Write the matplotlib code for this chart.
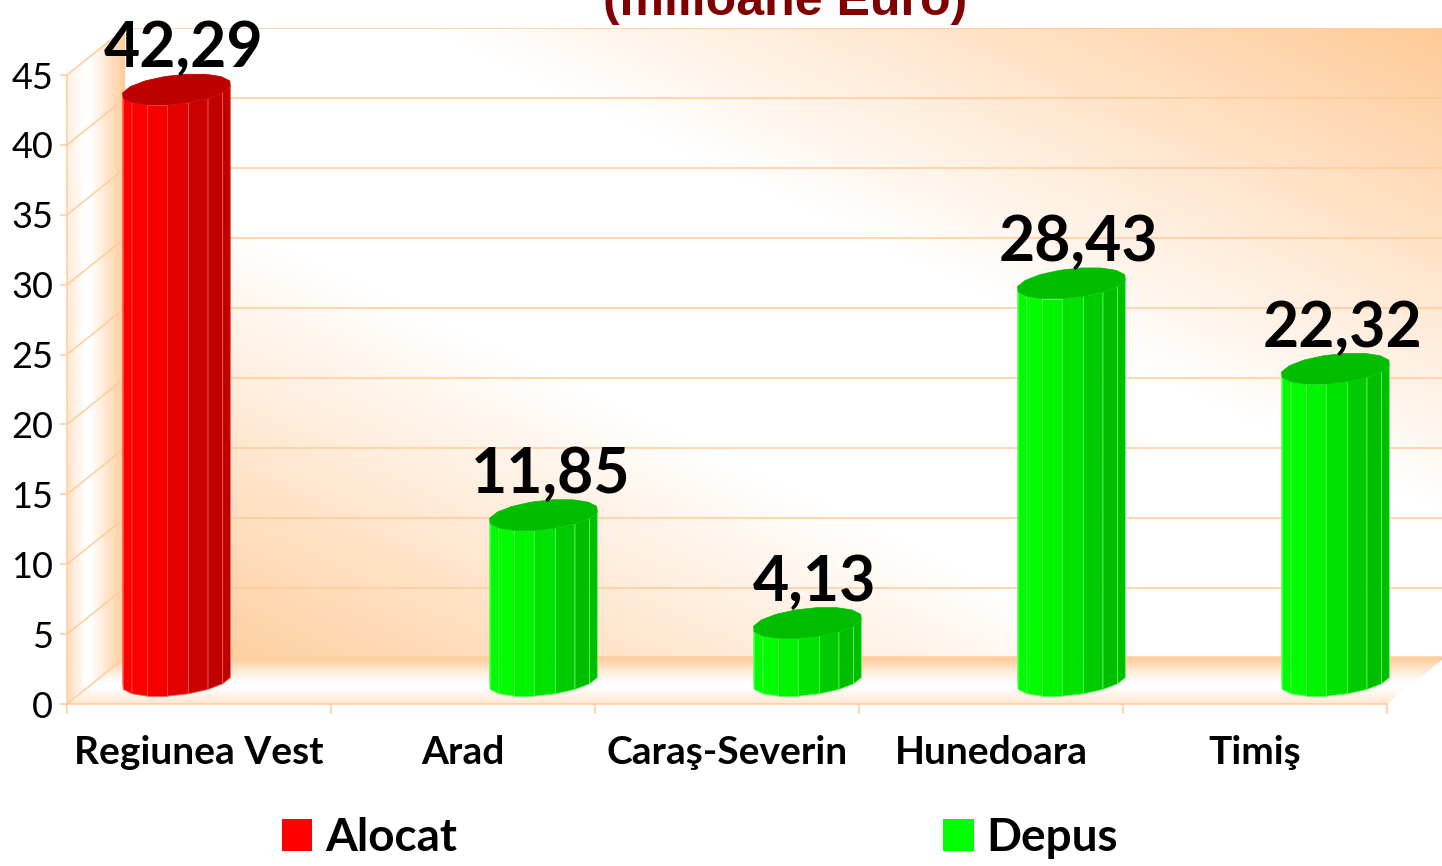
import numpy as np
import matplotlib
matplotlib.use("Agg")
import matplotlib.pyplot as plt
from matplotlib.patches import Polygon, Patch
from matplotlib.colors import to_rgb

# ---------------- data ----------------
categories = ["Regiunea Vest", "Arad", "Caraş-Severin", "Hunedoara", "Timiş"]
series_names = ["Alocat", "Depus"]
alocat = [42.29, np.nan, np.nan, np.nan, np.nan]
depus = [np.nan, 11.85, 4.13, 28.43, 22.32]
series_colors = ["#FF0000", "#00FF00"]
yticks = [0, 5, 10, 15, 20, 25, 30, 35, 40, 45]
title = "(milioane Euro)"

# ---------------- geometry / style ----------------
W, H = 1442, 866
fig = plt.figure(figsize=(W / 100, H / 100), dpi=100)
fig.patch.set_facecolor("white")

ncat = len(categories)
ymax = yticks[-1]
DX, DY = 0.22, 3.33          # depth offset of back wall (data units)
RX = 0.193                   # cylinder radius (x units)
S = 0.337                    # cylinder depth radius (fraction of depth)
SLOT = 0.195                 # series offset inside a category
px_x = 264.0                 # pixels per category
px_y = 629.0 / 45.0          # pixels per value unit
left_px, base_px = 67, 704

ax = fig.add_axes([left_px / W, (H - base_px) / H,
                   (ncat + DX) * px_x / W, (ymax + DY) * px_y / H])
ax.patch.set_visible(False)

ORANGE = np.array(to_rgb("#FFCA97"))
GRID = "#FFCC99"

# back wall gradient (axial, diagonal)
nx, ny = 400, 250
U, V = np.meshgrid(np.linspace(0, 1, nx), np.linspace(0, 1, ny))
t = (U + V) / 2
w = np.clip((1 - np.abs(2 * t - 1)) * 1.3, 0, 1)
img = ORANGE + (1 - ORANGE) * w[..., None]
ax.imshow(img, origin="lower", extent=(DX, ncat + DX, DY, ymax + DY),
          aspect="auto", interpolation="bilinear", zorder=0)

# left wall gradient
U2, V2 = np.meshgrid(np.linspace(0, 1, 60), np.linspace(0, 1, 250))
a = np.clip((U2 - 0.4) / 0.6, 0, 1)
b = np.clip((0.3 - U2) / 0.3, 0, 1) * (0.2 + 0.5 * (1 - V2))
amt = np.maximum(a, b)
img2 = 1 - (1 - ORANGE) * amt[..., None]
lw_poly = Polygon([(0, 0), (0, ymax), (DX, ymax + DY), (DX, DY)],
                  closed=True, transform=ax.transData, fc="none", ec="none")
im2 = ax.imshow(img2, origin="lower", extent=(0, DX, 0, ymax + DY),
                aspect="auto", interpolation="bilinear", zorder=0)
im2.set_clip_path(lw_poly)

# floor gradient
U3, V3 = np.meshgrid(np.linspace(0, 1, 300), np.linspace(0, 1, 80))
a3 = np.clip((V3 - 0.45) / 0.55, 0, 1) ** 1.2
b3 = np.clip((0.35 - V3) / 0.35, 0, 1) * 0.45
amt3 = np.maximum(a3, b3)
img3 = 1 - (1 - ORANGE) * amt3[..., None]
fl_poly = Polygon([(0, 0), (ncat, 0), (ncat + DX, DY), (DX, DY)],
                  closed=True, transform=ax.transData, fc="none", ec="none")
im3 = ax.imshow(img3, origin="lower", extent=(0, ncat + DX, 0, DY),
                aspect="auto", interpolation="bilinear", zorder=0)
im3.set_clip_path(fl_poly)

# gridlines on back wall and left wall
for v in yticks:
    ax.plot([DX, ncat + DX], [v + DY, v + DY], color=GRID, lw=1.1, zorder=1)
    ax.plot([0, DX], [v, v + DY], color=GRID, lw=1.1, zorder=1)


# ---------------- cylinders ----------------
def draw_cylinder(xc, val, color, z):
    base = np.array(to_rgb(color))
    N = 16
    th = np.linspace(0, 2 * np.pi, N + 1) + np.pi / N
    cx = xc + DX / 2
    cy = DY / 2

    def pt(theta, level):
        return (cx + RX * np.cos(theta) + S * np.sin(theta) * DX,
                level + cy + S * np.sin(theta) * DY)

    k = DX * S / RX
    L = np.array([-0.55, -0.85])
    L = L / np.linalg.norm(L)
    edge = base + (1 - base) * 0.35
    for i in range(N):
        a0, a1 = th[i], th[i + 1]
        phi = (a0 + a1) / 2
        vis = k * np.cos(phi) - np.sin(phi)
        if vis <= 0:
            continue
        lam = max(0.0, np.cos(phi) * L[0] + np.sin(phi) * L[1])
        col = base * (0.74 + 0.26 * lam)
        poly = [pt(a0, 0), pt(a1, 0), pt(a1, val), pt(a0, val)]
        ax.add_patch(Polygon(poly, closed=True, fc=col, ec=edge, lw=0.5,
                             zorder=z))
    top = [pt(a, val) for a in th[:-1]]
    tc = base * 0.74
    ax.add_patch(Polygon(top, closed=True, fc=tc, ec=tc, lw=0.5, zorder=z + 0.1))
    return cx, val + cy


for s_idx, (vals, col) in enumerate(zip([alocat, depus], series_colors)):
    off = -SLOT if s_idx == 0 else SLOT
    for i, v in enumerate(vals):
        if np.isnan(v):
            continue
        cx, cy = draw_cylinder(i + 0.5 + off, v, col, 3 + i * 0.01)
        lab = f"{v:.2f}".replace(".", ",")
        ax.annotate(lab, xy=(cx, cy), xytext=(5, 16), textcoords="offset points",
                    ha="center", va="baseline", fontsize=45, fontweight="bold",
                    family="Lato", color="black", zorder=10, annotation_clip=False)

# ---------------- axes ----------------
ax.set_xlim(0, ncat + DX)
ax.set_ylim(0, ymax + DY)
for sp in ["top", "right"]:
    ax.spines[sp].set_visible(False)
ax.spines["left"].set_bounds(0, ymax)
ax.spines["bottom"].set_bounds(0, ncat)
for sp in ["left", "bottom"]:
    ax.spines[sp].set_color(GRID)
    ax.spines[sp].set_linewidth(1.1)

ax.set_yticks(yticks)
ax.set_yticklabels([str(v) for v in yticks], family="Lato", fontsize=26)
ax.tick_params(axis="y", length=5, color=GRID, width=1.1, pad=5)

ax.set_xticks(np.arange(ncat + 1))
ax.set_xticklabels([])
ax.tick_params(axis="x", which="major", length=7, color=GRID, width=1.1, direction="out")
ax.set_xticks(np.arange(ncat) + 0.5, minor=True)
ax.set_xticklabels(categories, minor=True, family="Lato", fontweight="bold", fontsize=28)
ax.tick_params(axis="x", which="minor", length=0, pad=22)

# title (top line partly cut off in the original)
fig.text(785 / W, 1 - 15 / H, title, ha="center", va="baseline",
         family="Liberation Sans", fontweight="bold", fontsize=36, color="#800000")

# legend
handles = [Patch(facecolor=c, edgecolor="none", label=n)
           for c, n in zip(series_colors, series_names)]
fig.legend(handles=handles, loc="center", bbox_to_anchor=(700 / W, 28 / H),
           ncol=2, frameon=False, prop={"family": "Lato", "weight": "bold", "size": 33},
           handlelength=0.67, handleheight=0.7, handletextpad=0.28,
           columnspacing=10.6, borderpad=0, borderaxespad=0)

fig.savefig("out.png", dpi=100)
